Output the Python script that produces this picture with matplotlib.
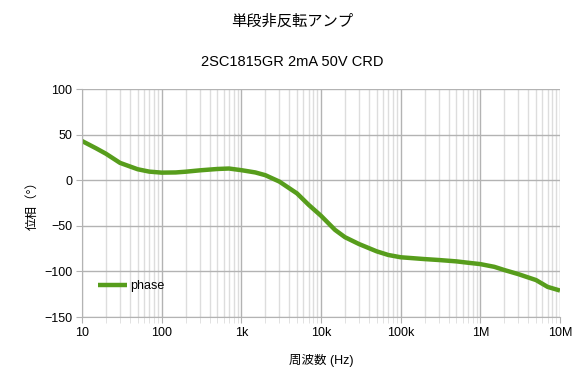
import matplotlib
matplotlib.use('Agg')
import matplotlib.pyplot as plt
from matplotlib.ticker import FixedLocator, LogLocator, NullFormatter

plt.rcParams['font.family'] = ['Liberation Sans', 'Noto Sans CJK JP', 'DejaVu Sans']

# 周波数 (Hz) と位相 (°)
freq = [10, 15, 20, 30, 50, 70, 100, 150, 200, 300, 500, 700, 1e3, 1.5e3, 2e3, 3e3,
        5e3, 7e3, 1e4, 1.5e4, 2e4, 3e4, 5e4, 7e4, 1e5, 2e5, 3e5, 5e5, 7e5, 1e6,
        1.5e6, 2e6, 3e6, 5e6, 7e6, 1e7]
phase = [43, 35, 29, 19, 12, 9.4, 8.3, 8.5, 9.3, 10.8, 12.3, 12.8, 11, 8.5, 5.5, -1.5,
         -14.5, -27, -39, -54.5, -62.5, -70, -78, -82, -84.5, -86.5, -87.5, -89, -90.5, -92,
         -95, -98.5, -103, -109.5, -117, -121]

xticks = [10, 100, 1e3, 1e4, 1e5, 1e6, 1e7]
xticklabels = ['10', '100', '1k', '10k', '100k', '1M', '10M']
yticks = [-150, -100, -50, 0, 50, 100]

fig = plt.figure(figsize=(5.84, 3.90), dpi=100)
ax = fig.add_axes([82 / 584, 1 - 317 / 390, (560 - 82) / 584, (317 - 89) / 390])

ax.plot(freq, phase, color='#579d1c', linewidth=3.2, label='phase', solid_capstyle='butt')

ax.set_xscale('log')
ax.set_xlim(10, 1e7)
ax.set_ylim(-150, 100)
ax.xaxis.set_major_locator(FixedLocator(xticks))
ax.set_xticklabels(xticklabels)
ax.xaxis.set_minor_locator(LogLocator(base=10, subs=range(2, 10), numticks=20))
ax.xaxis.set_minor_formatter(NullFormatter())
ax.set_yticks(yticks)

ax.grid(True, which='major', color='#b3b3b3', linewidth=1)
ax.grid(True, which='minor', axis='x', color='#dddddd', linewidth=1)
ax.set_axisbelow(True)
for s in ['top', 'right']:
    ax.spines[s].set_visible(False)
for s in ['left', 'bottom']:
    ax.spines[s].set_color('#b3b3b3')
ax.tick_params(axis='both', which='major', length=4, color='#b3b3b3', labelsize=9, pad=3)
ax.tick_params(axis='x', which='minor', length=4, color='#dddddd')

ax.set_xlabel('周波数 (Hz)', fontsize=9, labelpad=11)
ax.set_ylabel('位相（°）', fontsize=9, labelpad=4)

fig.text(0.5, 1 - 22 / 390, '単段非反転アンプ', ha='center', va='center', fontsize=11)
fig.text(0.5, 1 - 62 / 390, '2SC1815GR 2mA 50V CRD', ha='center', va='center', fontsize=10.5)

ax.legend(loc='lower left', bbox_to_anchor=(0.01, 0.06), frameon=False, fontsize=9,
          handlelength=2.3, handletextpad=0.3)

fig.savefig('out.png', dpi=100)
